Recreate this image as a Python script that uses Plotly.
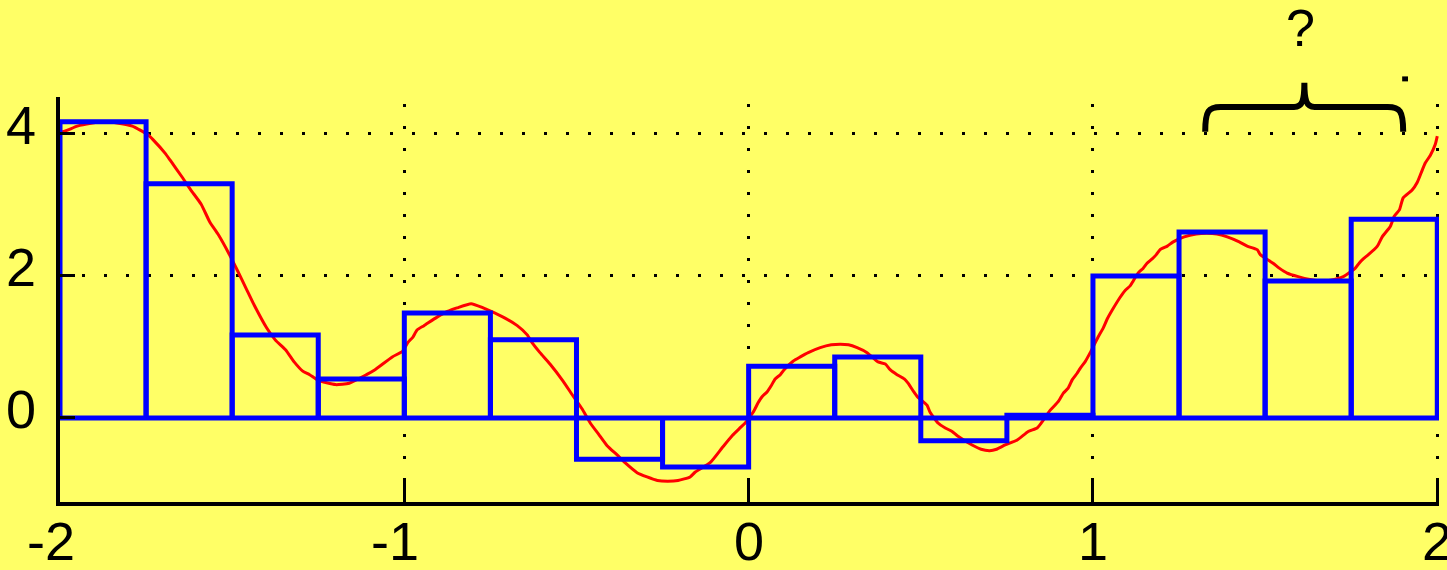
import plotly.graph_objects as go

# ---------------- data ----------------
bar_left = [-2.0, -1.75, -1.5, -1.25, -1.0, -0.75, -0.5, -0.25,
            0.0, 0.25, 0.5, 0.75, 1.0, 1.25, 1.5, 1.75]
bar_width = 0.25
bar_height = [4.17, 3.30, 1.17, 0.55, 1.48, 1.10, -0.58, -0.69,
              0.73, 0.86, -0.32, 0.04, 2.00, 2.62, 1.93, 2.80]

curve_x = [-2.00, -1.98, -1.95, -1.91, -1.87, -1.83, -1.79, -1.77, -1.745, -1.73,
           -1.695, -1.68, -1.645, -1.62, -1.59, -1.565, -1.54, -1.51, -1.485, -1.46,
           -1.435, -1.40, -1.375, -1.345, -1.32, -1.295, -1.275, -1.25, -1.20, -1.16,
           -1.11, -1.085, -1.035, -1.005, -0.99, -0.975, -0.963, -0.943, -0.905, -0.875,
           -0.847, -0.806, -0.771, -0.713, -0.672, -0.643, -0.629, -0.606, -0.577, -0.539,
           -0.51, -0.484, -0.46, -0.434, -0.411, -0.382, -0.359, -0.324, -0.295, -0.265,
           -0.235, -0.205, -0.17, -0.155, -0.112, -0.077, -0.048, -0.025, -0.01, 0.013,
           0.027, 0.039, 0.054, 0.065, 0.077, 0.092, 0.103, 0.129, 0.15, 0.173,
           0.208, 0.24, 0.266, 0.29, 0.315, 0.344, 0.376, 0.397, 0.411, 0.431,
           0.452, 0.463, 0.478, 0.49, 0.518, 0.527, 0.55, 0.571, 0.591, 0.606,
           0.649, 0.675, 0.70, 0.72, 0.745, 0.78, 0.812, 0.838, 0.85, 0.876,
           0.899, 0.914, 0.928, 0.94, 0.954, 0.963, 0.977, 0.992, 1.015, 1.03,
           1.041, 1.056, 1.079, 1.094, 1.108, 1.117, 1.131, 1.146, 1.157, 1.172,
           1.184, 1.195, 1.216, 1.233, 1.265, 1.30, 1.33, 1.36, 1.39, 1.425,
           1.448, 1.477, 1.486, 1.523, 1.541, 1.564, 1.596, 1.63, 1.66, 1.69,
           1.727, 1.762, 1.773, 1.785, 1.80, 1.826, 1.84, 1.864, 1.875, 1.89,
           1.901, 1.927, 1.942, 1.953, 1.965, 1.98, 1.994, 2.00]
curve_y = [4.02, 4.05, 4.11, 4.15, 4.17, 4.15, 4.11, 4.06, 3.99, 3.92,
           3.73, 3.63, 3.39, 3.21, 3.01, 2.76, 2.58, 2.32, 2.08, 1.83,
           1.58, 1.27, 1.10, 0.96, 0.79, 0.66, 0.61, 0.53, 0.47, 0.49,
           0.61, 0.68, 0.86, 0.94, 1.06, 1.14, 1.24, 1.30, 1.42, 1.50,
           1.55, 1.61, 1.55, 1.42, 1.30, 1.17, 1.06, 0.92, 0.76, 0.52,
           0.31, 0.13, -0.07, -0.24, -0.39, -0.52, -0.63, -0.77, -0.83, -0.88,
           -0.89, -0.88, -0.83, -0.76, -0.63, -0.42, -0.25, -0.14, -0.07, 0.08,
           0.21, 0.30, 0.37, 0.45, 0.55, 0.61, 0.68, 0.80, 0.86, 0.92,
           0.99, 1.03, 1.04, 1.03, 0.99, 0.92, 0.79, 0.76, 0.68, 0.61,
           0.55, 0.49, 0.38, 0.30, 0.18, 0.08, -0.07, -0.14, -0.19, -0.25,
           -0.38, -0.44, -0.46, -0.44, -0.38, -0.31, -0.19, -0.14, -0.07, 0.11,
           0.23, 0.35, 0.42, 0.54, 0.63, 0.70, 0.79, 0.92, 1.14, 1.27,
           1.39, 1.52, 1.70, 1.80, 1.86, 1.93, 2.04, 2.11, 2.18, 2.24,
           2.30, 2.37, 2.42, 2.48, 2.55, 2.59, 2.60, 2.59, 2.55, 2.48,
           2.42, 2.37, 2.30, 2.18, 2.11, 2.04, 1.99, 1.95, 1.93, 1.94,
           1.99, 2.11, 2.18, 2.24, 2.30, 2.42, 2.55, 2.70, 2.84, 2.93,
           3.10, 3.21, 3.32, 3.45, 3.59, 3.70, 3.85, 3.97]

x_ticks = [-2, -1, 0, 1, 2]
x_tick_text = ["-2", "-1", "0", "1", "2"]
y_ticks = [0, 2, 4]
y_tick_text = ["0", "2", "4"]

x_range = [-2.0, 2.005]
y_range = [-1.183, 4.52]

brace_label = "?"

# ---------------- figure ----------------
BG = "#FFFF66"
FONT = "Liberation Sans"

fig = go.Figure()

fig.add_trace(go.Scatter(x=curve_x, y=curve_y, mode="lines",
                         line=dict(color="#FF0000", width=3, shape="spline", smoothing=0.5),
                         hoverinfo="skip", showlegend=False))

bx, by = [], []
for left, h in zip(bar_left, bar_height):
    bx += [left, left, left + bar_width, left + bar_width, None]
    by += [0, h, h, 0, None]
fig.add_trace(go.Scatter(x=bx, y=by, mode="lines",
                         line=dict(color="#0000FF", width=5),
                         hoverinfo="skip", showlegend=False))
fig.add_trace(go.Scatter(x=x_range, y=[0, 0], mode="lines",
                         line=dict(color="#0000FF", width=5),
                         hoverinfo="skip", showlegend=False))


def py(v):
    return (v - y_range[0]) / (y_range[1] - y_range[0])


def pxx(v):
    return (v - x_range[0]) / (x_range[1] - x_range[0])


# curly brace (data units -> paper)
bx0, bx1 = 1.326, 1.901
bxc = 1.614
yb, ya, yt = 4.03, 4.38, 4.72
d1, d2 = 0.045, 0.025
path = (
    f"M {pxx(bx0)},{py(yb)} "
    f"C {pxx(bx0)},{py(ya - 0.05)} {pxx(bx0 + 0.01)},{py(ya)} {pxx(bx0 + d1)},{py(ya)} "
    f"L {pxx(bxc - d2 - 0.005)},{py(ya)} "
    f"C {pxx(bxc - 0.005)},{py(ya)} {pxx(bxc)},{py(ya + 0.1)} {pxx(bxc)},{py(yt)} "
    f"C {pxx(bxc)},{py(ya + 0.1)} {pxx(bxc + 0.005)},{py(ya)} {pxx(bxc + d2 + 0.005)},{py(ya)} "
    f"L {pxx(bx1 - d1)},{py(ya)} "
    f"C {pxx(bx1 - 0.01)},{py(ya)} {pxx(bx1)},{py(ya - 0.05)} {pxx(bx1)},{py(yb)}"
)
shapes = [
    dict(type="path", path=path, xref="paper", yref="paper",
         line=dict(color="black", width=6)),
    dict(type="rect", xref="paper", yref="paper",
         x0=pxx(1.898), x1=pxx(1.915), y0=py(4.74), y1=py(4.81),
         fillcolor="black", line=dict(width=0)),
]

annotations = [
    dict(text=brace_label, x=pxx(1.602), y=py(5.49), xref="paper", yref="paper",
         showarrow=False, font=dict(family=FONT, size=52, color="black"),
         xanchor="center", yanchor="middle"),
]
for v, t in zip(y_ticks, y_tick_text):
    annotations.append(dict(text=t, x=0, y=v, xref="paper", yref="y",
                            xanchor="right", yanchor="middle", xshift=-22, yshift=9,
                            showarrow=False,
                            font=dict(family=FONT, size=54, color="black")))
for v, t in zip(x_ticks, x_tick_text):
    annotations.append(dict(text=t, x=v, y=0, xref="x", yref="paper",
                            xanchor="center", yanchor="middle",
                            xshift=-9 if t.startswith("-") else 0, yshift=-39,
                            showarrow=False,
                            font=dict(family=FONT, size=54, color="black")))

axis_common = dict(showline=True, linecolor="black", linewidth=4,
                   ticks="inside", tickcolor="black", tickwidth=3,
                   showgrid=True, gridcolor="black", gridwidth=3,
                   zeroline=False, showticklabels=False, fixedrange=True)

fig.update_layout(
    width=1447, height=570,
    margin=dict(l=60, r=8, t=97, b=68, pad=0),
    paper_bgcolor=BG, plot_bgcolor=BG,
    showlegend=False,
    xaxis=dict(range=x_range, tickmode="array", tickvals=x_ticks, ticklen=22,
               griddash="0px,7px,3px,12px", **axis_common),
    yaxis=dict(range=y_range, tickmode="array", tickvals=y_ticks, ticklen=15,
               griddash="3px,19px", **axis_common),
    shapes=shapes,
    annotations=annotations,
)

fig.write_html("out.html", config={"displayModeBar": False},
               post_script="document.body.style.margin='0';"
                           "document.body.style.background='#FFFF66';")
